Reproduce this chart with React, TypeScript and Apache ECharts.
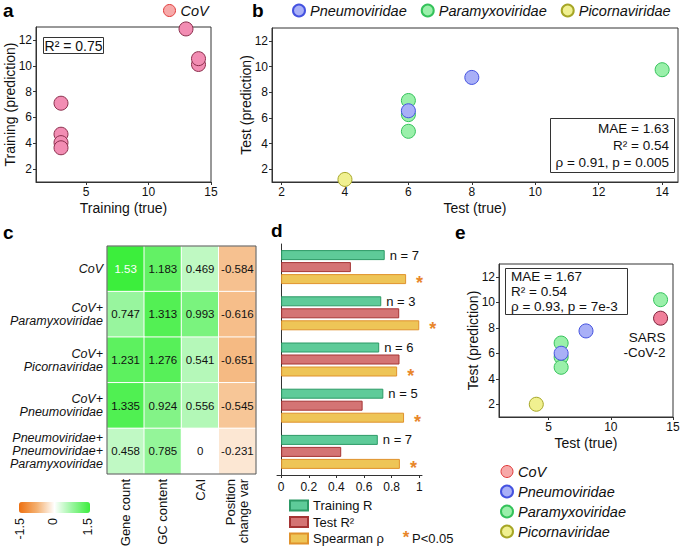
import React, { useEffect, useRef } from 'react';
import * as echarts from 'echarts';

const FONT = '"Liberation Sans", Arial, Helvetica, sans-serif';

// ---- Panel a: training (CoV) ----
const aTrue = [3, 3, 3, 3, 13, 14, 14];
const aPred = [7.1, 4.7, 4.05, 3.65, 12.85, 10.1, 10.55];

// ---- Panel b: test ----
const bParaTrue = [6, 6, 6, 14];
const bParaPred = [7.35, 6.25, 4.95, 9.75];
const bPneumoTrue = [6, 8];
const bPneumoPred = [6.55, 9.15];
const bPicoTrue = [4];
const bPicoPred = [1.2];

// ---- Panel c: heatmap ----
const heatRows = [
  'CoV',
  'CoV+\nParamyxoviridae',
  'CoV+\nPicornaviridae',
  'CoV+\nPneumoviridae',
  'Pneumoviridae+\nPneumoviridae+\nParamyxoviridae',
];
const heatCols = ['Gene count', 'GC content', 'CAI', 'Position\nchange var'];
const heatValues = [
  [1.53, 1.183, 0.469, -0.584],
  [0.747, 1.313, 0.993, -0.616],
  [1.231, 1.276, 0.541, -0.651],
  [1.335, 0.924, 0.556, -0.545],
  [0.458, 0.785, 0, -0.231],
];
const colorbarTicks = ['-1.5', '0', '1.5'];

// ---- Panel d: bars ----
const barGroups = ['G1', 'G2', 'G3', 'G4', 'G5'];
const trainingR = [0.75, 0.725, 0.71, 0.74, 0.7];
const testR2 = [0.505, 0.855, 0.857, 0.59, 0.435];
const spearmanRho = [0.905, 1.0, 0.84, 0.89, 0.86];
const groupN = [7, 3, 6, 5, 7];
const significant = [true, true, true, true, true];
const barTicks = [0, 0.2, 0.4, 0.6, 0.8, 1];

// ---- Panel e: test incl. SARS-CoV-2 ----
const eParaTrue = [6, 6, 6, 14];
const eParaPred = [6.8, 5.7, 4.9, 10.2];
const ePneumoTrue = [6, 8];
const ePneumoPred = [6.0, 7.75];
const ePicoTrue = [4];
const ePicoPred = [2.0];
const eCovTrue = [14];
const eCovPred = [8.75];

const scatterTicksY = [2, 4, 6, 8, 10, 12];
const ticks5 = [5, 10, 15];
const ticksB = [2, 4, 6, 8, 10, 12, 14];

const COL = {
  cov: { color: '#F28DB3', borderColor: '#8B2E4C', borderWidth: 1, opacity: 1 },
  covE: { color: '#F07F9A', borderColor: '#7A2038', borderWidth: 1, opacity: 1 },
  covLegend: { color: '#F7A9A9', borderColor: '#E03A3A', borderWidth: 1, opacity: 1 },
  pneumo: { color: '#A9B0F7', borderColor: '#4452E0', borderWidth: 1, opacity: 1 },
  para: { color: '#9AF0AA', borderColor: '#34C25A', borderWidth: 1, opacity: 1 },
  pico: { color: '#F0F090', borderColor: '#A6A626', borderWidth: 1, opacity: 1 },
};

const zip = (xs: number[], ys: number[]) => xs.map((x, i) => [x, ys[i]]);

function valAxis(gridIndex: number, min: number, max: number, ticks: number[], name: string, nameGap: number, margin: number) {
  return {
    type: 'value',
    gridIndex,
    min,
    max,
    name,
    nameGap,
    nameLocation: 'middle',
    nameMoveOverlap: false,
    nameTextStyle: { color: '#111', fontSize: 14, fontFamily: FONT },
    splitLine: { show: false },
    axisLine: { show: true, onZero: false, lineStyle: { color: '#333', width: 1 } },
    axisTick: { show: true, length: 3, customValues: ticks, lineStyle: { color: '#333' } },
    axisLabel: { customValues: ticks, color: '#111', fontSize: 12, fontFamily: FONT, margin, formatter: (v: number) => String(v) },
  };
}

function buildOption() {
  const gridFrame = { show: true, borderColor: '#333', borderWidth: 1, backgroundColor: 'transparent', outerBoundsMode: 'none', containLabel: false };
  const heatData = [] as any[];
  heatValues.forEach((row, r) =>
    row.forEach((v, c) => {
      heatData.push(v >= 1.5 ? { value: [c, r, v], label: { color: '#fff' } } : { value: [c, r, v] });
    })
  );
  const scatterBase = { type: 'scatter', symbolSize: 14, emphasis: { disabled: true } };
  const legendText = { fontSize: 14.5, fontStyle: 'italic', fontFamily: FONT, color: '#111' };
  const barLabelFont = { fontFamily: FONT, color: '#111' };

  return {
    animation: false,
    backgroundColor: '#fff',
    textStyle: { fontFamily: FONT },
    grid: [
      { left: 36, top: 27, width: 175, height: 155, ...gridFrame },
      { left: 272, top: 28, width: 406, height: 154, ...gridFrame },
      { left: 107, top: 246, width: 149, height: 228, show: false, outerBoundsMode: 'none', containLabel: false },
      { left: 277, top: 244, width: 145, height: 231, show: false, outerBoundsMode: 'none', containLabel: false },
      { left: 499, top: 264, width: 174, height: 153, ...gridFrame },
    ],
    xAxis: [
      valAxis(0, 1, 15, ticks5, 'Training (true)', 19, 4),
      valAxis(1, 1.7, 14.5, ticksB, 'Test (true)', 19, 4),
      {
        type: 'category',
        gridIndex: 2,
        data: heatCols,
        position: 'bottom',
        axisLine: { show: false },
        axisTick: { show: false },
        splitLine: { show: false },
        axisLabel: { rotate: 90, color: '#111', fontSize: 13, fontFamily: FONT, margin: 5, lineHeight: 13 },
      },
      {
        type: 'value',
        gridIndex: 3,
        min: -0.03,
        max: 1.02,
        splitLine: { show: false },
        axisLine: { show: true, onZero: false, lineStyle: { color: '#333', width: 1 } },
        axisTick: { show: true, length: 3, customValues: barTicks, lineStyle: { color: '#333' } },
        axisLabel: { customValues: barTicks, color: '#111', fontSize: 12, fontFamily: FONT, margin: 6, formatter: (v: number) => String(v) },
      },
      valAxis(4, 1, 15, ticks5, 'Test (true)', 19, 4),
    ],
    yAxis: [
      valAxis(0, 1, 13, scatterTicksY, 'Training (prediction)', 19, 4),
      valAxis(1, 1, 13, scatterTicksY, 'Test (prediction)', 19, 4),
      {
        type: 'category',
        gridIndex: 2,
        data: heatRows,
        inverse: true,
        axisLine: { show: false },
        axisTick: { show: false },
        splitLine: { show: false },
        axisLabel: { color: '#111', fontSize: 12.5, fontStyle: 'italic', fontFamily: FONT, margin: 4, lineHeight: 13, align: 'right' },
      },
      {
        type: 'category',
        gridIndex: 3,
        data: barGroups,
        inverse: true,
        axisLine: { show: true, lineStyle: { color: '#333', width: 1 } },
        axisTick: { show: false },
        axisLabel: { show: false },
        splitLine: { show: false },
      },
      valAxis(4, 1, 13, scatterTicksY, 'Test (prediction)', 19, 4),
    ],
    visualMap: [
      {
        type: 'continuous',
        seriesIndex: 4,
        min: -1.5,
        max: 1.5,
        orient: 'horizontal',
        left: 19,
        top: 502,
        padding: 0,
        itemWidth: 11,
        itemHeight: 71,
        calculable: false,
        hoverLink: false,
        inRange: { color: ['#EE7010', '#F4B070', '#FFFFFF', '#98F59E', '#3CEE3C'] },
        textStyle: { color: 'transparent', fontSize: 1 },
      },
    ],
    legend: [
      {
        data: [{ name: 'CoV', itemStyle: COL.covLegend }],
        left: 163,
        top: 3,
        icon: 'circle',
        itemWidth: 12,
        itemHeight: 12,
        padding: 0,
        selectedMode: false,
        textStyle: legendText,
      },
      {
        data: ['Pneumoviridae', 'Paramyxoviridae', 'Picornaviridae'],
        left: 292,
        top: 3,
        icon: 'circle',
        itemWidth: 12,
        itemHeight: 12,
        itemGap: 14,
        padding: 0,
        selectedMode: false,
        textStyle: legendText,
      },
      {
        data: [
          { name: 'CoV', itemStyle: COL.covLegend },
          'Pneumoviridae',
          'Paramyxoviridae',
          'Picornaviridae',
        ],
        orient: 'vertical',
        left: 500,
        top: 464,
        icon: 'circle',
        itemWidth: 12,
        itemHeight: 12,
        itemGap: 5,
        padding: 0,
        selectedMode: false,
        textStyle: legendText,
      },
      {
        data: ['Training R', 'Test R²', 'Spearman ρ'],
        orient: 'vertical',
        left: 289,
        top: 499,
        height: 60,
        icon: 'rect',
        itemWidth: 18,
        itemHeight: 10,
        itemGap: 3.5,
        padding: 0,
        selectedMode: false,
        textStyle: { fontSize: 13, lineHeight: 13, fontFamily: FONT, color: '#111' },
      },
    ],
    series: [
      // 0: panel a
      { ...scatterBase, name: 'CoV', xAxisIndex: 0, yAxisIndex: 0, data: zip(aTrue, aPred), itemStyle: COL.cov },
      // 1-3: panel b
      { ...scatterBase, name: 'Paramyxoviridae', xAxisIndex: 1, yAxisIndex: 1, data: zip(bParaTrue, bParaPred), itemStyle: COL.para },
      { ...scatterBase, name: 'Pneumoviridae', xAxisIndex: 1, yAxisIndex: 1, data: zip(bPneumoTrue, bPneumoPred), itemStyle: COL.pneumo },
      { ...scatterBase, name: 'Picornaviridae', xAxisIndex: 1, yAxisIndex: 1, data: zip(bPicoTrue, bPicoPred), itemStyle: COL.pico },
      // 4: heatmap
      {
        type: 'heatmap',
        name: 'heat',
        xAxisIndex: 2,
        yAxisIndex: 2,
        data: heatData,
        itemStyle: { borderColor: '#fff', borderWidth: 1 },
        label: { show: true, color: '#111', fontSize: 11.5, fontFamily: FONT, formatter: (p: any) => String(p.value[2]) },
        emphasis: { disabled: true },
      },
      // 5-7: bars
      {
        type: 'bar',
        name: 'Training R',
        xAxisIndex: 3,
        yAxisIndex: 3,
        data: trainingR,
        barWidth: 10,
        barGap: '20%',
        itemStyle: { color: '#5ECB99', borderColor: '#2C9A66', borderWidth: 1 },
        label: { show: true, position: 'right', distance: 5, fontSize: 13, ...barLabelFont, formatter: (p: any) => 'n = ' + groupN[p.dataIndex] },
        emphasis: { disabled: true },
      },
      {
        type: 'bar',
        name: 'Test R²',
        xAxisIndex: 3,
        yAxisIndex: 3,
        data: testR2,
        barWidth: 10,
        barGap: '20%',
        itemStyle: { color: '#D47474', borderColor: '#A53434', borderWidth: 1 },
        emphasis: { disabled: true },
      },
      {
        type: 'bar',
        name: 'Spearman ρ',
        xAxisIndex: 3,
        yAxisIndex: 3,
        data: spearmanRho,
        barWidth: 10,
        barGap: '20%',
        itemStyle: { color: '#EEC557', borderColor: '#E0922C', borderWidth: 1 },
        label: {
          show: true,
          position: 'right',
          distance: 10,
          fontSize: 18,
          fontWeight: 'bold',
          color: '#E8862A',
          fontFamily: FONT,
          offset: [0, 4],
          formatter: (p: any) => (significant[p.dataIndex] ? '*' : ''),
        },
        emphasis: { disabled: true },
      },
      // 8-11: panel e
      { ...scatterBase, name: 'Paramyxoviridae', xAxisIndex: 4, yAxisIndex: 4, data: zip(eParaTrue, eParaPred), itemStyle: COL.para },
      { ...scatterBase, name: 'Pneumoviridae', xAxisIndex: 4, yAxisIndex: 4, data: zip(ePneumoTrue, ePneumoPred), itemStyle: COL.pneumo },
      { ...scatterBase, name: 'Picornaviridae', xAxisIndex: 4, yAxisIndex: 4, data: zip(ePicoTrue, ePicoPred), itemStyle: COL.pico },
      {
        ...scatterBase,
        name: 'CoV',
        xAxisIndex: 4,
        yAxisIndex: 4,
        data: zip(eCovTrue, eCovPred),
        itemStyle: COL.covE,
        label: {
          show: true,
          position: 'bottom',
          distance: 5,
          align: 'right',
          offset: [5, 0],
          fontSize: 13.5,
          lineHeight: 14.5,
          color: '#111',
          opacity: 1,
          fontFamily: FONT,
          formatter: 'SARS\n-CoV-2',
        },
      },
    ],
    graphic: [
      // panel letters
      ...[
        ['a', 3, 10],
        ['b', 252, 10],
        ['c', 3, 232],
        ['d', 271, 230],
        ['e', 455, 232],
      ].map(([t, x, y]) => ({
        type: 'text',
        x,
        y,
        z: 100,
        style: { text: t, fontSize: 19, fontWeight: 'bold', fontFamily: FONT, fill: '#000', align: 'left', verticalAlign: 'middle' },
      })),
      // panel a R² box
      { type: 'rect', z: 90, shape: { x: 43.5, y: 37.5, width: 60, height: 16 }, style: { fill: '#fff', stroke: '#333', lineWidth: 1 } },
      { type: 'text', z: 91, x: 73.5, y: 46, style: { text: 'R² = 0.75', fontSize: 14, fontFamily: FONT, fill: '#111', align: 'center', verticalAlign: 'middle' } },
      // panel b stats box
      { type: 'rect', z: 90, shape: { x: 550.5, y: 118.5, width: 124, height: 54 }, style: { fill: '#fff', stroke: '#333', lineWidth: 1 } },
      {
        type: 'text',
        z: 91,
        x: 669,
        y: 120,
        style: { text: 'MAE = 1.63\nR² = 0.54\nρ = 0.91, p = 0.005', fontSize: 13.5, lineHeight: 17, fontFamily: FONT, fill: '#111', align: 'right', verticalAlign: 'top' },
      },
      // panel e stats box
      { type: 'rect', z: 90, shape: { x: 505.5, y: 268.5, width: 122, height: 46 }, style: { fill: '#fff', stroke: '#333', lineWidth: 1 } },
      {
        type: 'text',
        z: 91,
        x: 511,
        y: 269,
        style: { text: 'MAE = 1.67\nR² = 0.54\nρ = 0.93, p = 7e-3', fontSize: 13.5, lineHeight: 15, fontFamily: FONT, fill: '#111', align: 'left', verticalAlign: 'top' },
      },
      // heatmap frame
      { type: 'rect', z: 90, shape: { x: 107, y: 246, width: 149, height: 228 }, style: { fill: 'none', stroke: '#555', lineWidth: 1 } },
      // colorbar tick labels
      ...colorbarTicks.map((t, i) => ({
        type: 'text',
        z: 91,
        x: [20, 53, 88][i],
        y: 518,
        rotation: Math.PI / 2,
        style: { text: t, fontSize: 12.5, fontFamily: FONT, fill: '#111', align: 'right', verticalAlign: 'middle' },
      })),
      // significance note
      { type: 'text', z: 91, x: 406, y: 537, style: { text: '*', fontSize: 17, fontWeight: 'bold', fontFamily: FONT, fill: '#E8862A', align: 'center', verticalAlign: 'middle' } },
      { type: 'text', z: 91, x: 412, y: 538, style: { text: 'P<0.05', fontSize: 13, fontFamily: FONT, fill: '#111', align: 'left', verticalAlign: 'middle' } },
    ],
  };
}

export default function App() {
  const ref = useRef<HTMLDivElement>(null);
  useEffect(() => {
    if (!ref.current) return;
    const chart = echarts.init(ref.current, null, { renderer: 'svg' });
    chart.setOption(buildOption() as any);
    return () => chart.dispose();
  }, []);
  return <div ref={ref} style={{ position: 'fixed', left: 0, top: 0, width: 685, height: 546, background: '#fff' }} />;
}
